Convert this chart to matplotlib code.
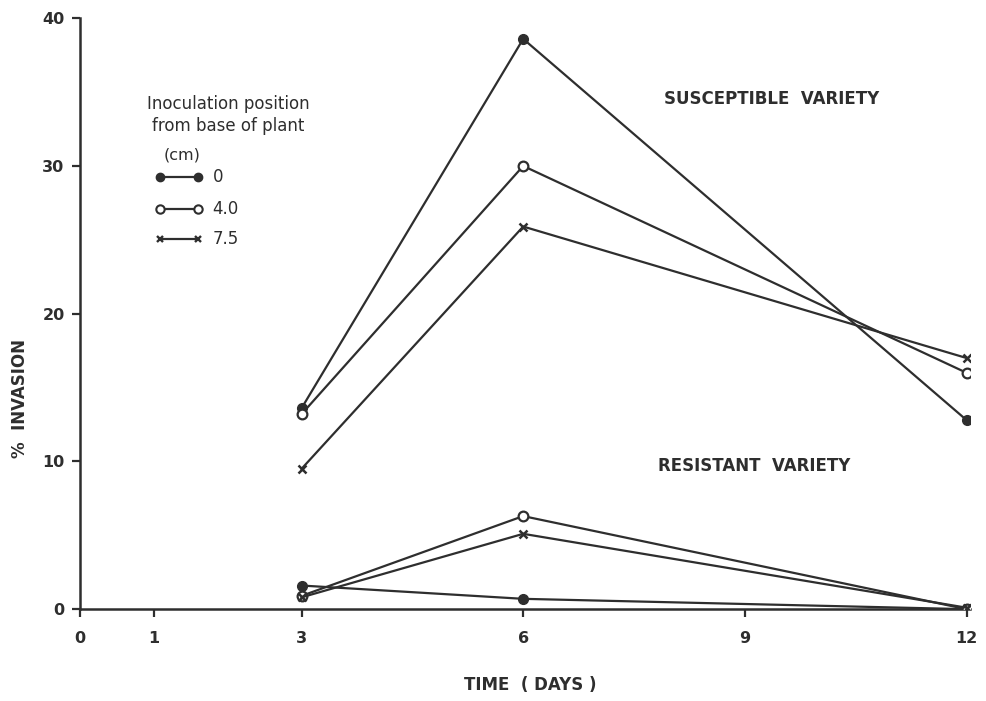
import matplotlib
matplotlib.use("Agg")
import matplotlib.pyplot as plt

# Days after inoculation
days = [3, 6, 12]

# % invasion, susceptible variety, by inoculation position (cm from base)
susc_0 = [13.6, 38.6, 12.8]
susc_4 = [13.2, 30.0, 16.0]
susc_75 = [9.5, 25.9, 17.0]

# % invasion, resistant variety
res_0 = [1.6, 0.7, 0.0]
res_4 = [0.9, 6.3, 0.0]
res_75 = [0.8, 5.1, 0.1]

x_ticks = [0, 1, 3, 6, 9, 12]
y_ticks = [0, 10, 20, 30, 40]
positions = ["0", "4.0", "7.5"]

ink = "#2e2e2e"
plt.rcParams["font.family"] = ["DejaVu Sans"]
plt.rcParams["font.weight"] = "bold"

fig = plt.figure(figsize=(9.86, 7.01), dpi=100)
ax = fig.add_axes([0.081, 0.131, 0.903, 0.843])

styles = [
    dict(marker="o", markersize=7, markerfacecolor=ink, markeredgecolor=ink),
    dict(marker="o", markersize=7, markerfacecolor="white", markeredgecolor=ink, markeredgewidth=1.6),
    dict(marker="x", markersize=6, markeredgecolor=ink, markeredgewidth=1.8),
]

for series, st in zip([susc_0, susc_4, susc_75], styles):
    ax.plot(days, series, color=ink, lw=1.6, zorder=3, **st)
for series, st in zip([res_0, res_4, res_75], styles):
    ax.plot(days, series, color=ink, lw=1.6, zorder=3, **st)

ax.set_xlim(0, 12.05)
ax.set_ylim(0, 40)
ax.set_xticks(x_ticks)
ax.set_yticks(y_ticks)
ax.set_xticklabels([str(v) for v in x_ticks], fontsize=11.5, fontweight="bold", color=ink)
ax.set_yticklabels([str(v) for v in y_ticks], fontsize=11.5, fontweight="bold", color=ink)
ax.tick_params(axis="both", direction="out", length=6, width=1.6, color=ink)
ax.tick_params(axis="x", pad=10)
ax.tick_params(axis="y", pad=5)
for s in ["top", "right"]:
    ax.spines[s].set_visible(False)
for s in ["left", "bottom"]:
    ax.spines[s].set_linewidth(1.8)
    ax.spines[s].set_color(ink)

# Axis titles placed in figure coordinates
fig.text(530 / 986, 1 - 685 / 701, "TIME  ( DAYS )", ha="center", va="center",
         fontsize=12, fontweight="bold", color=ink)
fig.text(20 / 986, 1 - 398 / 701, "%  INVASION", ha="center", va="center",
         rotation=90, fontsize=12, fontweight="bold", color=ink)

ax.text(9.36, 34.5, "SUSCEPTIBLE  VARIETY", ha="center", va="center",
        fontsize=12, fontweight="bold", color=ink)
ax.text(9.13, 9.7, "RESISTANT  VARIETY", ha="center", va="center",
        fontsize=12, fontweight="bold", color=ink)

# Legend block
ax.text(0.167, 0.836, "Inoculation position\nfrom base of plant", transform=ax.transAxes,
        ha="center", va="center", fontsize=12, fontweight="normal", color=ink,
        linespacing=1.3)
ax.text(0.115, 0.768, "(cm)", transform=ax.transAxes, ha="center", va="center",
        fontsize=11.5, fontweight="normal", color=ink)
legend_styles = [
    dict(marker="o", markersize=6, markerfacecolor=ink, markeredgecolor=ink),
    dict(marker="o", markersize=6, markerfacecolor="white", markeredgecolor=ink, markeredgewidth=1.5),
    dict(marker="x", markersize=5, markeredgecolor=ink, markeredgewidth=1.7),
]
legend_y = [0.731, 0.678, 0.626]
for lab, st, ly in zip(positions, legend_styles, legend_y):
    ax.plot([0.09, 0.133], [ly, ly], transform=ax.transAxes, color=ink, lw=1.6,
            clip_on=False, **st)
    ax.text(0.149, ly, lab, transform=ax.transAxes, ha="left", va="center",
            fontsize=12, fontweight="normal", color=ink)

fig.savefig("out.png", dpi=100, facecolor="white")
